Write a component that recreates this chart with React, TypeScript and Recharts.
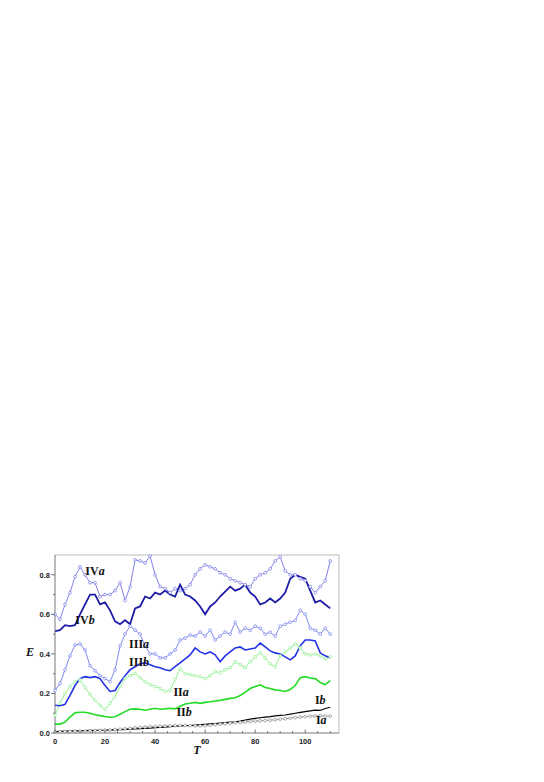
import { Line, LineChart, ReferenceDot, ReferenceLine, XAxis, YAxis } from "recharts";

const tValues = [
  0, 2, 4, 6, 8, 10, 12, 14, 16, 18, 20, 22, 24, 26, 28, 30, 32, 34, 36, 38,
  40, 42, 44, 46, 48, 50, 52, 54, 56, 58, 60, 62, 64, 66, 68, 70, 72, 74, 76, 78,
  80, 82, 84, 86, 88, 90, 92, 94, 96, 98, 100, 102, 104, 106, 108, 110,
];

const ivA = [
  0.6, 0.575, 0.65, 0.71, 0.79, 0.84, 0.8, 0.76, 0.76, 0.69,
  0.7, 0.7, 0.72, 0.76, 0.67, 0.74, 0.875, 0.87, 0.86, 0.895,
  0.8, 0.74, 0.73, 0.71, 0.73, 0.72, 0.73, 0.75, 0.8, 0.83,
  0.85, 0.84, 0.83, 0.81, 0.8, 0.78, 0.77, 0.76, 0.75, 0.74,
  0.78, 0.8, 0.81, 0.83, 0.87, 0.89, 0.82, 0.8, 0.8, 0.78,
  0.77, 0.74, 0.71, 0.74, 0.77, 0.87,
];
const ivB = [
  0.515, 0.52, 0.545, 0.54, 0.545, 0.6, 0.65, 0.7, 0.7, 0.65,
  0.66, 0.62, 0.565, 0.55, 0.57, 0.55, 0.63, 0.64, 0.69, 0.68,
  0.71, 0.7, 0.72, 0.7, 0.69, 0.75, 0.7, 0.69, 0.67, 0.64,
  0.6, 0.64, 0.66, 0.69, 0.715, 0.74, 0.72, 0.73, 0.75, 0.71,
  0.69, 0.65, 0.66, 0.68, 0.66, 0.68, 0.71, 0.78, 0.8, 0.79,
  0.78, 0.72, 0.66, 0.67, 0.65, 0.63,
];
const iiiA = [
  0.215, 0.25, 0.32, 0.39, 0.445, 0.45, 0.42, 0.34, 0.315, 0.29,
  0.275, 0.26, 0.32, 0.44, 0.5, 0.54, 0.52, 0.5, 0.44, 0.4,
  0.4, 0.38, 0.38, 0.4, 0.42, 0.47, 0.48, 0.495, 0.49, 0.51,
  0.49, 0.52, 0.47, 0.49, 0.51, 0.5, 0.56, 0.51, 0.53, 0.52,
  0.54, 0.53, 0.5, 0.51, 0.49, 0.54, 0.55, 0.56, 0.57, 0.62,
  0.6, 0.53, 0.52, 0.5, 0.53, 0.5,
];
const iiiB = [
  0.14, 0.138, 0.145, 0.19, 0.24, 0.275, 0.285, 0.28, 0.285, 0.275,
  0.24, 0.21, 0.215, 0.255, 0.29, 0.32, 0.335, 0.35, 0.355, 0.345,
  0.335, 0.33, 0.32, 0.315, 0.335, 0.355, 0.375, 0.395, 0.43, 0.41,
  0.4, 0.41, 0.395, 0.36, 0.39, 0.41, 0.43, 0.435, 0.42, 0.425,
  0.43, 0.455, 0.435, 0.415, 0.405, 0.4, 0.385, 0.37, 0.39, 0.44,
  0.47, 0.47, 0.465, 0.405, 0.39, 0.38,
];
const iiA = [
  0.09, 0.15, 0.2, 0.235, 0.26, 0.268, 0.23, 0.195, 0.165, 0.14,
  0.12, 0.15, 0.185, 0.235, 0.275, 0.29, 0.3, 0.28, 0.26, 0.245,
  0.235, 0.225, 0.21, 0.215, 0.27, 0.325, 0.3, 0.295, 0.29, 0.285,
  0.275, 0.29, 0.31, 0.305, 0.32, 0.33, 0.36, 0.345, 0.33, 0.36,
  0.385, 0.405, 0.38, 0.35, 0.335, 0.39, 0.41, 0.43, 0.45, 0.43,
  0.4, 0.395, 0.4, 0.39, 0.375, 0.385,
];
const iiB = [
  0.045, 0.045, 0.055, 0.08, 0.102, 0.105, 0.105, 0.1, 0.092, 0.088,
  0.083, 0.08, 0.082, 0.095, 0.108, 0.12, 0.122, 0.12, 0.115, 0.12,
  0.125, 0.12, 0.122, 0.125, 0.122, 0.135, 0.147, 0.15, 0.155, 0.15,
  0.155, 0.158, 0.162, 0.165, 0.17, 0.175, 0.178, 0.19, 0.205, 0.225,
  0.235, 0.243, 0.23, 0.225, 0.218, 0.215, 0.21, 0.22, 0.24, 0.28,
  0.285, 0.278, 0.275, 0.255, 0.245, 0.265,
];
const iB = [
  0.007, 0.008, 0.009, 0.01, 0.011, 0.012, 0.012, 0.013, 0.013, 0.014,
  0.014, 0.015, 0.016, 0.017, 0.018, 0.02, 0.021, 0.022, 0.023, 0.025,
  0.027, 0.028, 0.03, 0.032, 0.034, 0.036, 0.037, 0.038, 0.04, 0.042,
  0.044, 0.046, 0.048, 0.05, 0.052, 0.055, 0.057, 0.06, 0.065, 0.07,
  0.074, 0.077, 0.08, 0.083, 0.087, 0.089, 0.091, 0.095, 0.1, 0.104,
  0.108, 0.112, 0.116, 0.114, 0.124, 0.13,
];
const iA = [
  0.005, 0.006, 0.007, 0.008, 0.009, 0.01, 0.01, 0.011, 0.012, 0.013,
  0.014, 0.015, 0.017, 0.019, 0.021, 0.024, 0.026, 0.028, 0.03, 0.032,
  0.033, 0.034, 0.035, 0.036, 0.037, 0.038, 0.038, 0.037, 0.036, 0.036,
  0.037, 0.039, 0.042, 0.045, 0.047, 0.05, 0.052, 0.053, 0.056, 0.058,
  0.06, 0.062, 0.063, 0.065, 0.067, 0.07, 0.072, 0.075, 0.078, 0.08,
  0.083, 0.085, 0.086, 0.088, 0.086, 0.085,
];

const xTicks = [0, 5, 10, 15, 20, 25, 30, 35, 40, 45, 50, 55, 60, 65, 70, 75, 80, 85, 90, 95, 100, 105, 110];
const yTicks = [0, 0.1, 0.2, 0.3, 0.4, 0.5, 0.6, 0.7, 0.8];
const xMax = 113.5;
const yMax = 0.9;

// curve labels: roman part, italic letter, position in data units
const curveLabels = [
  { roman: "IV", letter: "a", t: 16, e: 0.82 },
  { roman: "IV", letter: "b", t: 12, e: 0.57 },
  { roman: "III", letter: "a", t: 33.6, e: 0.45 },
  { roman: "III", letter: "b", t: 33.6, e: 0.36 },
  { roman: "II", letter: "a", t: 50.4, e: 0.207 },
  { roman: "II", letter: "b", t: 51.6, e: 0.106 },
  { roman: "I", letter: "b", t: 106, e: 0.167 },
  { roman: "I", letter: "a", t: 106.4, e: 0.066 },
];

const data = tValues.map((t, i) => ({
  t,
  ivA: ivA[i],
  ivB: ivB[i],
  iiiA: iiiA[i],
  iiiB: iiiB[i],
  iiA: iiA[i],
  iiB: iiB[i],
  iB: iB[i],
  iA: iA[i],
}));

const tickFont = { fontFamily: "'Liberation Sans', Arial, sans-serif", fontWeight: 700, fontSize: 7.5, fill: "#222" };
const axisTitle = { fontFamily: "'Liberation Serif', serif", fontWeight: 700, fontStyle: "italic", fontSize: 12, fill: "#111" };

// ticks drawn by hand so x ticks point inward and y ticks outward, with minor ticks
function XTick({ x, y, payload }: any) {
  const v = payload.value;
  const major = v % 20 === 0;
  return (
    <g>
      <line x1={x} x2={x} y1={y} y2={y - (major ? 3.5 : 2)} stroke="#555" strokeWidth={0.8} />
      {major && (
        <text x={x} y={y + 11} textAnchor="middle" style={tickFont}>
          {v}
        </text>
      )}
    </g>
  );
}

function YTick({ x, y, payload }: any) {
  const v = payload.value;
  const major = Math.round(v * 10) % 2 === 0;
  return (
    <g>
      <line x1={x} x2={x - (major ? 4 : 2)} y1={y} y2={y} stroke="#555" strokeWidth={0.8} />
      {major && (
        <text x={x - 5} y={y + 2.8} textAnchor="end" style={tickFont}>
          {v.toFixed(1)}
        </text>
      )}
    </g>
  );
}

function curveLabel(roman: string, letter: string) {
  return (props: any) => {
    const vb = props.viewBox || {};
    return (
      <text
        x={vb.x}
        y={vb.y + 4}
        textAnchor="middle"
        fontFamily="'Liberation Serif', 'Times New Roman', serif"
        fontWeight={700}
        fontSize={12}
        fill="#111"
      >
        {roman}
        <tspan fontStyle="italic">{letter}</tspan>
      </text>
    );
  };
}

const dotA = (color: string) => ({ r: 1.4, fill: "#fff", stroke: color, strokeWidth: 0.7 });

export default function App() {
  return (
    <div style={{ position: "absolute", left: 0, top: 0, width: 544, height: 782, background: "#fff" }}>
      <LineChart
        width={544}
        height={782}
        data={data}
        margin={{ top: 555, right: 205, bottom: 19, left: 25 }}
      >
        <XAxis
          dataKey="t"
          type="number"
          domain={[0, xMax]}
          ticks={xTicks}
          tick={<XTick />}
          tickSize={0}
          tickMargin={0}
          height={30}
          axisLine={{ stroke: "#555", strokeWidth: 0.8 }}
          interval={0}
          label={{ value: "T", position: "insideTop", offset: 12, style: axisTitle }}
        />
        <YAxis
          type="number"
          domain={[0, yMax]}
          ticks={yTicks}
          tick={<YTick />}
          tickSize={0}
          tickMargin={0}
          width={30}
          interval={0}
          axisLine={{ stroke: "#555", strokeWidth: 0.8 }}
          label={{ value: "E", position: "insideLeft", offset: 1, dy: 8, style: axisTitle }}
        />
        <ReferenceLine y={yMax} stroke="#aaa" strokeWidth={0.8} />
        <ReferenceLine x={xMax} stroke="#aaa" strokeWidth={0.8} />

        <Line dataKey="iA" stroke="#8a8a8a" strokeWidth={0.9} dot={dotA("#8a8a8a")} isAnimationActive={false} />
        <Line dataKey="iB" stroke="#000" strokeWidth={1.2} dot={false} isAnimationActive={false} />
        <Line dataKey="iiA" stroke="#88ee88" strokeWidth={0.9} dot={dotA("#88ee88")} isAnimationActive={false} />
        <Line dataKey="iiB" stroke="#22dd22" strokeWidth={1.6} dot={false} isAnimationActive={false} />
        <Line dataKey="iiiA" stroke="#6f7cef" strokeWidth={0.9} dot={dotA("#6f7cef")} isAnimationActive={false} />
        <Line dataKey="iiiB" stroke="#2233e6" strokeWidth={1.6} dot={false} isAnimationActive={false} />
        <Line dataKey="ivA" stroke="#7474e4" strokeWidth={0.9} dot={dotA("#7474e4")} isAnimationActive={false} />
        <Line dataKey="ivB" stroke="#1c1ca6" strokeWidth={1.8} dot={false} isAnimationActive={false} />

        {curveLabels.map((c) => (
          <ReferenceDot
            key={c.roman + c.letter}
            x={c.t}
            y={c.e}
            r={0}
            fill="none"
            stroke="none"
            label={curveLabel(c.roman, c.letter)}
          />
        ))}
      </LineChart>
    </div>
  );
}
